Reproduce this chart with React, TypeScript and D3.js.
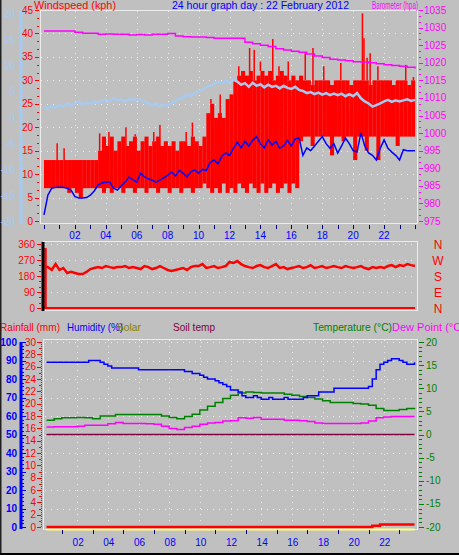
import React from 'react';
import * as d3 from 'd3';

const W = 459, H = 555;
const FONT = "'Liberation Sans', Arial, sans-serif";

// time axes
const hourLabels = ['02', '04', '06', '08', '10', '12', '14', '16', '18', '20', '22'];
const hourLabelValues = [2, 4, 6, 8, 10, 12, 14, 16, 18, 20, 22];
const t15 = d3.range(97).map(i => i / 4);
const t30 = d3.range(49).map(i => i / 2);

// Top panel: wind speed (kph), upper/lower envelope per 15 min
const windHigh = [
  13, 13, 13, 13, 13, 13, 13, 13, 13, 13, 13, 13, 13, 13, 15, 18,
  16, 18, 15, 17, 18, 16, 17, 18, 15, 17, 18, 16, 17, 18, 16, 17,
  16, 17, 15, 17, 17, 16, 18, 17, 16, 18, 23, 25, 22, 23, 22, 26,
  27, 30, 31, 32, 31, 32, 30, 31, 32, 31, 32, 30, 31, 32, 31, 30,
  31, 30, 31, 30, 30, 29, 30, 30, 30, 30, 29, 30, 30, 30, 30, 29,
  30, 30, 30, 30, 29, 30, 30, 30, 30, 30, 29, 30, 30, 30, 29, 30, 30,
];
const windLow = [
  7, 7, 7, 7, 7, 7, 6, 7, 6, 5, 7, 7, 7, 7, 7, 6,
  7, 6, 7, 7, 6, 7, 7, 6, 7, 7, 6, 7, 7, 6, 7, 7,
  6, 7, 7, 6, 7, 7, 6, 7, 7, 8, 7, 6, 7, 6, 8, 6,
  7, 6, 8, 7, 6, 8, 7, 6, 8, 6, 7, 8, 6, 7, 8, 6,
  8, 7, 17, 18, 18, 16, 18, 18, 18, 18, 14, 18, 18, 17, 18, 18,
  13, 18, 18, 15, 18, 18, 13, 18, 18, 18, 18, 16, 18, 18, 18, 18, 18,
];
const gustHours = [0.85, 1.3, 3.6, 4.2, 5.3, 5.9, 7.1, 7.5, 9.2, 9.6, 10.8, 11.4, 12.6, 13.3, 13.6, 14.0, 14.8, 15.2, 15.8, 16.9, 17.4, 18.1, 19.2, 20.6, 20.7, 20.9, 21.1, 21.6, 23.4, 23.9];
const gustValues = [16.6, 15.5, 18.7, 19, 20, 18.5, 19, 20.5, 19, 21, 26, 27, 33, 36.9, 36.5, 34, 38.8, 33, 34, 35.8, 36.9, 33, 33.7, 44.3, 39, 34.8, 35.8, 33, 33.3, 30.7];
// average wind (kph)
const windAvg = [
  1.3, 5.5, 7.0, 7.2, 7.2, 7.2, 7.0, 6.6, 5.2, 4.9, 4.9, 5.0, 5.5, 6.4, 7.7, 8.1,
  8.3, 8.3, 7.0, 6.6, 7.5, 8.3, 9.4, 8.8, 8.3, 10.2, 9.4, 9.0, 8.7, 8.3, 8.7, 9.2,
  9.8, 10.4, 9.6, 10.8, 10.2, 9.4, 10.5, 10.9, 10.2, 11.0, 10.8, 12.5, 13.0, 12.2, 13.8, 14.5,
  14.0, 15.5, 16.8, 15.6, 17.0, 16.0, 17.2, 18.0, 16.5, 15.6, 17.3, 16.2, 17.0, 15.5, 16.0, 17.2,
  16.0, 17.5, 17.7, 14.0, 15.6, 15.0, 16.0, 17.0, 18.0, 16.5, 15.5, 16.5, 14.5, 16.0, 17.7, 16.5,
  15.0, 14.7, 18.8, 16.0, 14.5, 14.0, 13.0, 15.5, 17.3, 15.5, 14.7, 14.0, 13.0, 15.2, 15.0, 15.0, 15.0,
];
// light blue series (left light-blue scale)
const lightBlue = [
  2.0, 1.5, 2.2, 1.8, 2.3, 2.0, 2.5, 2.2, 2.6, 3.0, 2.4, 2.8, 2.5, 3.0, 2.7, 3.2,
  3.3, 3.0, 3.6, 3.2, 3.4, 3.0, 3.5, 3.2, 3.5, 3.2, 3.0, 2.6, 2.2, 2.5, 2.0, 2.4,
  2.2, 2.8, 3.0, 3.6, 3.8, 4.3, 4.0, 4.6, 5.0, 5.2, 5.8, 6.0, 6.4, 6.8, 6.5, 7.0,
  6.6, 7.2, 6.8, 6.2, 6.5, 5.8, 6.6, 6.0, 6.3, 5.7, 6.2, 5.8, 6.0, 5.5, 6.0, 5.6,
  5.4, 5.8, 5.2, 5.0, 4.6, 4.8, 4.4, 4.7, 4.3, 4.6, 4.2, 4.5, 4.2, 4.5, 4.0, 4.4,
  4.0, 4.6, 3.6, 3.0, 2.6, 2.0, 2.3, 2.6, 3.0, 3.3, 2.9, 3.2, 3.0, 3.2, 3.4, 3.1, 3.3,
];
// barometer (hPa) every 30 min
const barometer = [
  1029.0, 1029.0, 1029.0, 1029.0, 1028.7, 1028.4, 1028.4, 1028.1, 1028.2, 1028.1,
  1028.1, 1027.9, 1028.0, 1027.9, 1028.1, 1028.1, 1028.3, 1027.6, 1027.4, 1027.3,
  1027.3, 1027.2, 1027.0, 1027.0, 1027.0, 1027.0, 1025.8, 1025.4, 1025.0, 1024.6,
  1024.0, 1023.6, 1023.3, 1023.0, 1022.5, 1021.9, 1021.5, 1021.0, 1020.8, 1020.6,
  1020.3, 1020.2, 1020.0, 1019.7, 1019.4, 1019.2, 1019.0, 1018.7, 1018.4,
];
// wind direction (deg) every 15 min; first reading at start of day
const firstDir = 337;
const windDir = [
  230, 230, 214, 247, 214, 225, 197, 203, 197, 191, 191, 203, 219, 225, 230, 225,
  236, 230, 225, 230, 230, 236, 225, 230, 225, 219, 236, 230, 219, 225, 236, 225,
  214, 208, 214, 219, 225, 214, 230, 236, 236, 247, 225, 230, 236, 225, 230, 236,
  259, 253, 264, 247, 236, 230, 225, 236, 241, 230, 225, 236, 247, 225, 230, 219,
  225, 230, 236, 225, 230, 241, 225, 230, 236, 225, 230, 236, 230, 225, 236, 230,
  225, 230, 236, 225, 219, 230, 225, 230, 225, 236, 241, 230, 241, 236, 247, 241, 236,
];
const compass = ['N', 'W', 'S', 'E', 'N'];
const dirTicks = [360, 270, 180, 90, 0];

// bottom panel
const humidity = [
  89, 89, 89, 89, 89, 89, 89, 89, 89, 89, 89, 90, 90, 90, 89, 88,
  87, 86, 86, 86, 86, 86, 86, 86, 85, 85, 85, 85, 85, 85, 85, 85,
  85, 85, 85, 85, 84, 84, 83, 83, 82, 81, 80, 80, 79, 78, 77, 76,
  74, 74, 73, 71, 70, 70, 71, 70, 69, 69, 70, 69, 69, 69, 70, 69,
  69, 69, 69, 70, 71, 71, 71, 73, 73, 73, 73, 75, 75, 75, 75, 75,
  75, 75, 75, 75, 76, 80, 85, 88, 89, 90, 91, 91, 90, 89, 88, 88, 89,
];
const temperature = [
  3.1, 3.4, 3.6, 3.6, 3.7, 3.6, 3.4, 4.0, 4.0, 4.3, 4.3, 4.3, 4.3, 4.3, 4.3, 4.0,
  3.7, 3.4, 3.9, 4.4, 5.3, 6.1, 6.9, 7.8, 8.5, 9.0, 9.2, 9.1, 9.0, 9.0, 9.0, 8.7,
  8.5, 8.2, 8.0, 7.7, 7.3, 6.9, 6.9, 6.9, 6.7, 6.6, 6.3, 5.6, 5.2, 5.2, 5.4, 5.6, 5.8,
];
const dewPoint = [
  1.6, 1.7, 1.7, 1.7, 1.8, 2.0, 2.0, 2.0, 2.3, 2.6, 2.4, 2.4, 2.4, 2.3, 2.2, 1.8,
  1.3, 1.1, 1.5, 1.8, 2.2, 2.5, 2.6, 2.9, 3.0, 3.6, 3.5, 3.7, 3.3, 3.3, 3.3, 3.1,
  3.1, 3.0, 2.8, 2.5, 2.4, 2.4, 2.4, 2.4, 2.4, 2.5, 2.9, 3.6, 3.8, 3.9, 3.9, 3.9, 3.9,
];
const soilTemp = [0, 0];
const soilHours = [0, 24];
const rainHours = [0, 21.25, 21.75, 24];
const rainTotals = [0, 0.2, 0.4, 0.4];
const solarHours = [0, 24];
const solarValues = [0, 0];

const C = {
  bg: '#c0c0c0', red: '#ff0000', blue: '#0000ff', lblue: '#a6caf0', mag: '#ff00ff',
  green: '#008000', olive: '#808000', soil: '#800040', yellow: '#ffff80', border: '#ececec', grid: '#eeeeee',
};

export default function App() {
  const xT = d3.scaleLinear([0, 24], [44, 415]);
  const yKph = d3.scaleLinear([0, 45], [221, 10]);
  const yBaro = d3.scaleLinear([975, 1035], [221, 10]);
  const yLB = d3.scaleLinear([-20, 20], [221, 13]);
  const yDir = d3.scaleLinear([0, 360], [308, 244]);
  const xB = d3.scaleLinear([0, 24], [46.5, 414.5]);
  const yHum = d3.scaleLinear([0, 100], [527, 342]);
  const yRain = d3.scaleLinear([0, 30], [527, 342]);
  const yTemp = d3.scaleLinear([-20, 20], [527, 342]);

  const lineT = (ys: (v: number) => number, times: number[], curve = d3.curveLinear) =>
    d3.line<number>().x((_, i) => xT(times[i])).y(v => ys(v)).curve(curve);
  const lineB = (ys: (v: number) => number, times: number[], curve = d3.curveStepAfter) =>
    d3.line<number>().x((_, i) => xB(times[i])).y(v => ys(v)).curve(curve);

  const txt = { fontFamily: FONT, fontSize: 10 } as const;
  const ttl = { fontFamily: FONT, fontSize: 11, lengthAdjust: 'spacingAndGlyphs' } as const;

  const gridDots = { stroke: C.grid, strokeWidth: 1, strokeDasharray: '1 5' };

  // wind direction: first reading rises from 0, then the series
  const dirTimes = t15.map((t, i) => (i === 0 ? 0.12 : t));
  const dirPath = lineT(yDir, dirTimes)(windDir) as string;

  return (
    <svg width={W} height={H} style={{ position: 'absolute', left: 0, top: 0 }} xmlns="http://www.w3.org/2000/svg">
      <rect x={0} y={0} width={W} height={H} fill={C.bg} />
      <line x1={0.5} y1={0} x2={0.5} y2={H} stroke="#202020" strokeWidth={2} />
      <line x1={0} y1={554} x2={W} y2={554} stroke="#000" strokeWidth={2} />

      {/* ================= TOP PANEL ================= */}
      {d3.range(5, 45, 5).map(v => (
        <line key={'hg' + v} x1={41} x2={417} y1={Math.round(yKph(v)) + 0.5} y2={Math.round(yKph(v)) + 0.5} {...gridDots} />
      ))}
      {hourLabelValues.map(h => (
        <line key={'vg' + h} x1={Math.round(xT(h)) + 0.5} x2={Math.round(xT(h)) + 0.5} y1={11} y2={223} {...gridDots} />
      ))}
      <rect x={40.5} y={10.5} width={377} height={213} fill="none" stroke={C.border} strokeWidth={1} />

      {/* wind envelope */}
      {windHigh.slice(0, 96).map((v, i) => (
        <rect key={'wb' + i} x={xT(t15[i])} width={xT(t15[i + 1]) - xT(t15[i]) + 0.2}
          y={yKph(v)} height={yKph(windLow[i]) - yKph(v)} fill={C.red} />
      ))}
      {gustHours.map((h, i) => (
        <line key={'gu' + i} x1={xT(h)} x2={xT(h)} y1={yKph(windHigh[Math.min(95, Math.floor(h * 4))])} y2={yKph(gustValues[i])} stroke={C.red} strokeWidth={1.5} />
      ))}
      <path d={lineT(yLB, t15)(lightBlue) as string} fill="none" stroke={C.lblue} strokeWidth={2.5} />
      <path d={lineT(yKph, t15)(windAvg) as string} fill="none" stroke={C.blue} strokeWidth={1.5} />
      <path d={lineT(yBaro, t30, d3.curveStepAfter)(barometer) as string} fill="none" stroke={C.mag} strokeWidth={1.5} />

      {/* light blue axis */}
      <line x1={21} x2={21} y1={10} y2={224} stroke={C.lblue} strokeWidth={3} />
      {d3.range(-20, 21, 5).map(v => (
        <g key={'lb' + v}>
          <line x1={22} x2={25} y1={yLB(v)} y2={yLB(v)} stroke={C.lblue} />
          <text x={15} y={yLB(v) + 3.5} textAnchor="end" fill={C.lblue} {...txt}>{v}</text>
        </g>
      ))}
      {/* red kph axis */}
      {d3.range(0, 45.01, 5 / 3).map((v, i) => (
        <line key={'rk' + i} x1={i % 3 === 0 ? 35 : 37} x2={39} y1={Math.round(yKph(v)) + 0.5} y2={Math.round(yKph(v)) + 0.5} stroke={C.red} strokeWidth={1} />
      ))}
      {d3.range(0, 46, 5).map(v => (
        <text key={'rkl' + v} x={33} y={yKph(v) + 3.5} textAnchor="end" fill={C.red} {...txt}>{v}</text>
      ))}
      {/* barometer axis */}
      {d3.range(975, 1035.01, 5 / 3).map((v, i) => (
        <line key={'bk' + i} x1={419} x2={i % 3 === 0 ? 423 : 421} y1={Math.round(yBaro(v)) + 0.5} y2={Math.round(yBaro(v)) + 0.5} stroke={C.mag} strokeWidth={1} />
      ))}
      {d3.range(975, 1036, 5).map(v => (
        <text key={'bkl' + v} x={424} y={yBaro(v) + 3.5} fill={C.mag} {...txt}>{v}</text>
      ))}
      {/* hour ticks & labels */}
      {d3.range(0, 25).map(h => (
        <line key={'ht' + h} x1={Math.round(xT(h)) + 0.5} x2={Math.round(xT(h)) + 0.5} y1={225} y2={229} stroke="#000080" />
      ))}
      {hourLabels.map((l, i) => (
        <text key={'hl' + l} x={xT(hourLabelValues[i])} y={239} textAnchor="middle" fill={C.blue} {...txt}>{l}</text>
      ))}
      {/* titles */}
      <text x={34} y={9} fill={C.red} {...ttl} textLength={82}>Windspeed (kph)</text>
      <text x={172} y={9} fill={C.blue} {...ttl} textLength={177}>24 hour graph day : 22 February 2012</text>
      <text x={372} y={9} fill={C.mag} {...ttl} textLength={46}>Barometer (hpa)</text>

      {/* ================= WIND DIRECTION PANEL ================= */}
      {[90, 180, 270, 360].map(v => (
        <line key={'dg' + v} x1={45} x2={417} y1={Math.round(yDir(v)) + 0.5} y2={Math.round(yDir(v)) + 0.5} {...gridDots} />
      ))}
      <rect x={43.5} y={241.5} width={374} height={69} fill="none" stroke={C.border} strokeWidth={1} />
      <line x1={xT(0)} x2={xT(24)} y1={yDir(0)} y2={yDir(0)} stroke={C.red} strokeWidth={2} />
      <line x1={xT(0) + 1.5} x2={xT(0) + 1.5} y1={yDir(0)} y2={yDir(firstDir)} stroke={C.red} strokeWidth={2.5} />
      <path d={dirPath} fill="none" stroke={C.red} strokeWidth={2.5} />
      <line x1={43} x2={43} y1={242} y2={311} stroke="#000" strokeWidth={3} />
      {d3.range(0, 361, 30).map(v => (
        <line key={'dt' + v} x1={v % 90 === 0 ? 37 : 39} x2={41} y1={Math.round(yDir(v)) + 0.5} y2={Math.round(yDir(v)) + 0.5} stroke={C.red} />
      ))}
      {dirTicks.map(v => (
        <text key={'dl' + v} x={35} y={yDir(v) + 3.5} textAnchor="end" fill={C.red} {...txt}>{v}</text>
      ))}
      {compass.map((c, i) => (
        <text key={'cp' + i} x={438} y={yDir(dirTicks[i]) + 4.5} textAnchor="middle" fill={C.red} fontFamily={FONT} fontSize={12}>{c}</text>
      ))}

      {/* ================= BOTTOM PANEL ================= */}
      {d3.range(10, 101, 10).map(v => (
        <line key={'bg' + v} x1={45} x2={417} y1={Math.round(yHum(v)) + 0.5} y2={Math.round(yHum(v)) + 0.5} {...gridDots} />
      ))}
      {hourLabelValues.map(h => (
        <line key={'bvg' + h} x1={Math.round(xB(h)) + 0.5} x2={Math.round(xB(h)) + 0.5} y1={340} y2={528} {...gridDots} />
      ))}
      <rect x={43.5} y={339.5} width={374} height={190} fill="none" stroke={C.border} strokeWidth={1} />

      <path d={lineB(yTemp, soilHours)(soilTemp) as string} fill="none" stroke={C.soil} strokeWidth={1.5} />
      <path d={lineB(yTemp, t30)(dewPoint) as string} fill="none" stroke={C.mag} strokeWidth={1.5} />
      <path d={lineB(yTemp, t30)(temperature) as string} fill="none" stroke={C.green} strokeWidth={1.5} />
      <path d={lineB(yHum, t15)(humidity) as string} fill="none" stroke={C.blue} strokeWidth={1.5} />
      <path d={lineB(v => yRain(v) + 2.5, solarHours)(solarValues) as string} fill="none" stroke={C.yellow} strokeWidth={2} />
      <path d={lineB(yRain, rainHours)(rainTotals) as string} fill="none" stroke={C.red} strokeWidth={2.5} />

      {/* humidity axis */}
      <line x1={21} x2={21} y1={342} y2={529} stroke={C.blue} strokeWidth={3} />
      {d3.range(0, 101, 2).map(v => (
        <line key={'hu' + v} x1={22} x2={v % 10 === 0 ? 26 : 24} y1={Math.round(yHum(v)) + 0.5} y2={Math.round(yHum(v)) + 0.5} stroke={C.blue} />
      ))}
      {d3.range(0, 101, 10).map(v => (
        <text key={'hul' + v} x={17} y={yHum(v) + 3.5} textAnchor="end" fill={C.blue} fontWeight="bold" {...txt}>{v}</text>
      ))}
      {/* rain axis */}
      <line x1={41.5} x2={41.5} y1={342} y2={528} stroke={C.red} strokeDasharray="1 1" />
      {d3.range(0, 30.01, 1).map(v => (
        <line key={'ra' + v} x1={v % 2 === 0 ? 37 : 39} x2={41} y1={Math.round(yRain(v)) + 0.5} y2={Math.round(yRain(v)) + 0.5} stroke={C.red} />
      ))}
      {d3.range(0, 31, 2).map(v => (
        <text key={'ral' + v} x={36} y={yRain(v) + 3.5} textAnchor="end" fill={C.red} {...txt}>{v}</text>
      ))}
      {/* temperature axis */}
      {d3.range(-20, 20.01, 1).map(v => (
        <line key={'te' + v} x1={419} x2={v % 5 === 0 ? 424 : 422} y1={Math.round(yTemp(v)) + 0.5} y2={Math.round(yTemp(v)) + 0.5} stroke={C.green} />
      ))}
      {d3.range(-20, 21, 5).map(v => (
        <text key={'tel' + v} x={426} y={yTemp(v) + 3.5} fill={C.green} {...txt}>{v}</text>
      ))}
      {/* bottom hour ticks & labels */}
      {d3.range(1, 24, 2).map(h => (
        <line key={'bht' + h} x1={Math.round(xB(h)) + 0.5} x2={Math.round(xB(h)) + 0.5} y1={530} y2={534} stroke="#000080" />
      ))}
      {hourLabels.map((l, i) => (
        <text key={'bhl' + l} x={xB(hourLabelValues[i]) + 1} y={546} textAnchor="middle" fill={C.blue} {...txt}>{l}</text>
      ))}
      {/* titles */}
      <text x={0} y={331} fill={C.red} {...ttl} textLength={60}>Rainfall (mm)</text>
      <text x={67} y={331} fill={C.blue} {...ttl} textLength={56}>Humidity (%)</text>
      <text x={117} y={331} fill={C.olive} {...ttl} textLength={24}>Solar</text>
      <text x={173} y={331} fill={C.soil} {...ttl} textLength={42}>Soil temp</text>
      <text x={313} y={331} fill={C.green} {...ttl} textLength={79}>Temperature (°C)</text>
      <text x={392} y={331} fill={C.mag} {...ttl}>Dew Point (°C)</text>
    </svg>
  );
}
